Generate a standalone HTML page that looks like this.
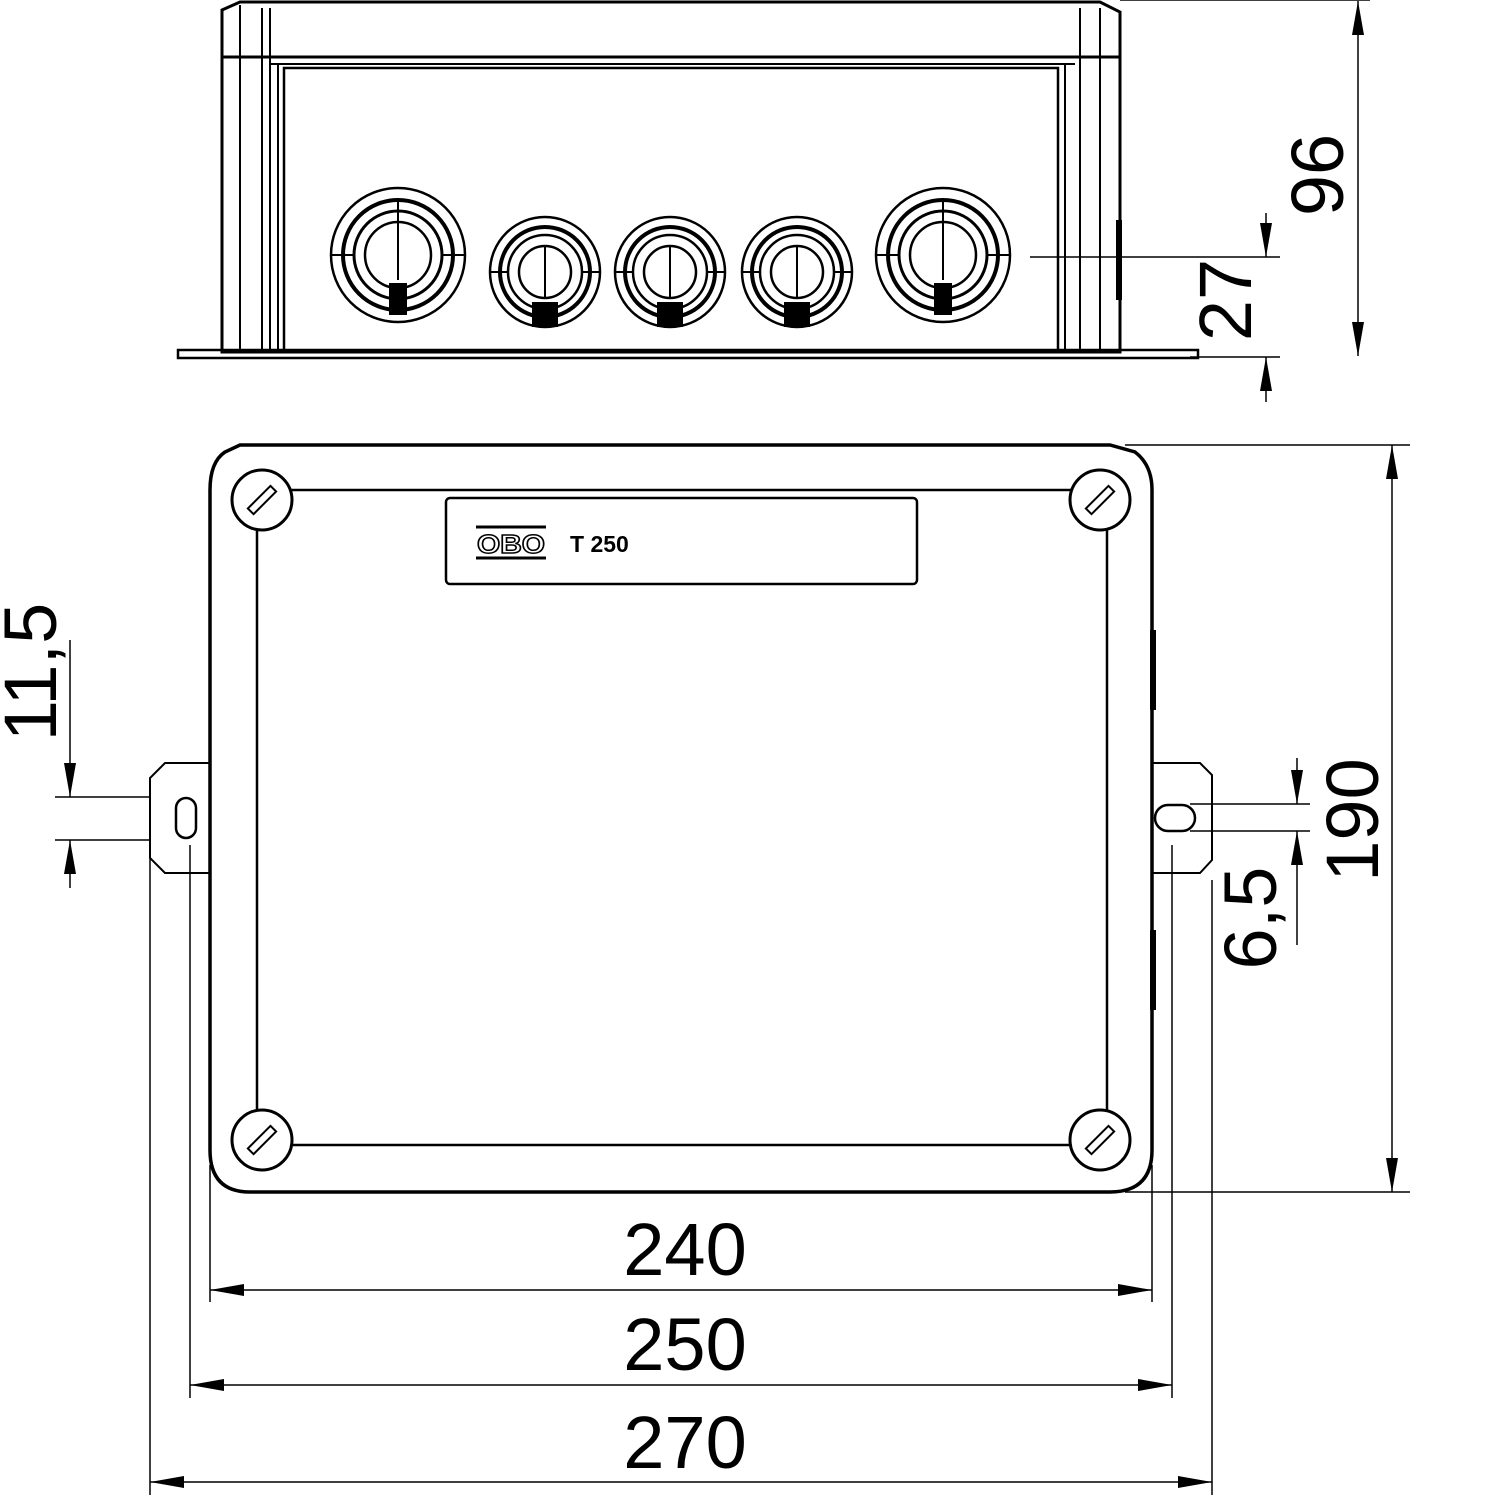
<!DOCTYPE html>
<html><head><meta charset="utf-8"><style>html,body{margin:0;padding:0;background:#fff}svg{display:block}</style></head>
<body>
<svg width="1500" height="1500" viewBox="0 0 1500 1500" xmlns="http://www.w3.org/2000/svg" font-family="Liberation Sans, sans-serif">
<defs>
<marker id="a" viewBox="0 0 34 12" refX="34" refY="6" markerWidth="34" markerHeight="12" markerUnits="userSpaceOnUse" orient="auto"><path d="M0,0L34,6L0,12z" fill="#000"/></marker>
<g id="bigG"><circle r="67" fill="none" stroke="#000" stroke-width="2.5"/><circle r="55" fill="none" stroke="#000" stroke-width="4"/><circle r="44" fill="none" stroke="#000" stroke-width="3"/><circle r="33" fill="none" stroke="#000" stroke-width="2.5"/><path d="M-67,0H-44M44,0H67M0,-55V25" stroke="#000" stroke-width="2"/><rect x="-9" y="28" width="18" height="32" fill="#000"/></g>
<g id="smG"><circle r="55" fill="none" stroke="#000" stroke-width="2.5"/><circle r="45" fill="none" stroke="#000" stroke-width="4"/><circle r="37" fill="none" stroke="#000" stroke-width="2.5"/><circle r="26" fill="none" stroke="#000" stroke-width="2.5"/><path d="M-55,0H-37M37,0H55M0,-26V26" stroke="#000" stroke-width="2"/><rect x="-13" y="30" width="26" height="25" fill="#000"/></g>
<g id="scr"><circle r="30" fill="#fff" stroke="#000" stroke-width="3"/><rect x="-4" y="-16" width="8" height="32" transform="rotate(45)" fill="#fff" stroke="#000" stroke-width="2"/></g>
</defs>
<g fill="none" stroke="#000">
<path d="M222,10 L240,2 H1100 L1120,12 V352 H222 Z" stroke-width="3"/>
<line x1="222" y1="57" x2="1120" y2="57" stroke-width="3"/>
<line x1="270" y1="64" x2="1075" y2="64" stroke-width="2"/>
<path d="M284,352 V68 H1058 V352" stroke-width="2.5"/>
<path d="M240,5 V352 M262,8 V352 M270,8 V352 M278,64 V352 M1065,64 V352 M1080,8 V352 M1100,8 V352" stroke-width="2"/>
<path d="M178,350 H1198 V358 H178 Z" stroke-width="2.5"/>
<line x1="1120" y1="0" x2="1370" y2="0" stroke-width="1.5"/>
<rect x="1116" y="220" width="6" height="80" fill="#000" stroke="none"/>
</g>
<use href="#bigG" x="398" y="255"/>
<use href="#smG" x="545" y="272"/>
<use href="#smG" x="670" y="272"/>
<use href="#smG" x="797" y="272"/>
<use href="#bigG" x="943" y="255"/>
<g stroke="#000" stroke-width="1.5" fill="none">
<line x1="1030" y1="257" x2="1280" y2="257"/>
<line x1="1190" y1="357" x2="1280" y2="357"/>
<line x1="1358" y1="180" x2="1358" y2="1" marker-end="url(#a)"/>
<line x1="1358" y1="180" x2="1358" y2="356" marker-end="url(#a)"/>
<line x1="1266" y1="213" x2="1266" y2="257" marker-end="url(#a)"/>
<line x1="1266" y1="402" x2="1266" y2="357" marker-end="url(#a)"/>
</g>
<g fill="none" stroke="#000">
<path d="M240,445 H1110 L1135,452 Q1152,465 1152,490 V1150 Q1152,1192 1110,1192 H250 Q210,1192 210,1150 V490 Q210,462 225,452 Z" stroke-width="3.5"/>
<path d="M257,490 H1107 V1145 H257 Z" stroke-width="2.5"/>
<rect x="446" y="498" width="471" height="86" rx="4" stroke-width="2.5"/>
<path d="M210,763 H165 L150,778 V858 L165,873 H210" stroke-width="2"/>
<rect x="176" y="798" width="20" height="40" rx="10" stroke-width="2.5"/>
<path d="M1152,763 H1200 L1212,775 V860 L1200,873 H1152" stroke-width="2"/>
<rect x="1155" y="805" width="40" height="26" rx="13" stroke-width="2.5"/>
<rect x="1150" y="630" width="6" height="80" fill="#000" stroke="none"/>
<rect x="1150" y="930" width="6" height="80" fill="#000" stroke="none"/>
</g>
<use href="#scr" x="262" y="500"/>
<use href="#scr" x="1100" y="500"/>
<use href="#scr" x="262" y="1140"/>
<use href="#scr" x="1100" y="1140"/>
<text x="511" y="553" font-size="26" text-anchor="middle" font-weight="bold" fill="none" stroke="#000" stroke-width="1.5" textLength="68" lengthAdjust="spacingAndGlyphs">OBO</text>
<path d="M476,527 H546 M476,558 H546" stroke="#000" stroke-width="3"/>
<text x="570" y="552" font-size="23" font-weight="bold">T 250</text>
<g stroke="#000" stroke-width="1.5" fill="none">
<line x1="1125" y1="445" x2="1410" y2="445"/>
<line x1="1125" y1="1192" x2="1410" y2="1192"/>
<line x1="1392" y1="820" x2="1392" y2="445" marker-end="url(#a)"/>
<line x1="1392" y1="820" x2="1392" y2="1192" marker-end="url(#a)"/>
<line x1="210" y1="1165" x2="210" y2="1302"/>
<line x1="1152" y1="1165" x2="1152" y2="1302"/>
<line x1="190" y1="845" x2="190" y2="1398"/>
<line x1="1172" y1="845" x2="1172" y2="1398"/>
<line x1="150" y1="855" x2="150" y2="1495"/>
<line x1="1212" y1="880" x2="1212" y2="1495"/>
<line x1="680" y1="1290" x2="210" y2="1290" marker-end="url(#a)"/>
<line x1="680" y1="1290" x2="1152" y2="1290" marker-end="url(#a)"/>
<line x1="680" y1="1385" x2="190" y2="1385" marker-end="url(#a)"/>
<line x1="680" y1="1385" x2="1172" y2="1385" marker-end="url(#a)"/>
<line x1="680" y1="1482" x2="150" y2="1482" marker-end="url(#a)"/>
<line x1="680" y1="1482" x2="1212" y2="1482" marker-end="url(#a)"/>
<line x1="55" y1="797" x2="150" y2="797"/>
<line x1="55" y1="840" x2="150" y2="840"/>
<line x1="70" y1="640" x2="70" y2="797" marker-end="url(#a)"/>
<line x1="70" y1="888" x2="70" y2="840" marker-end="url(#a)"/>
<line x1="1190" y1="804" x2="1310" y2="804"/>
<line x1="1190" y1="831" x2="1310" y2="831"/>
<line x1="1297" y1="758" x2="1297" y2="804" marker-end="url(#a)"/>
<line x1="1297" y1="945" x2="1297" y2="831" marker-end="url(#a)"/>
</g>
<g font-size="74" fill="#000" text-anchor="middle">
<text x="685" y="1275">240</text>
<text x="685" y="1370">250</text>
<text x="685" y="1468">270</text>
<text transform="translate(1343,175) rotate(-90)">96</text>
<text transform="translate(1251,300) rotate(-90)">27</text>
<text transform="translate(1378,820) rotate(-90)">190</text>
<text transform="translate(1276,918) rotate(-90)">6,5</text>
<text transform="translate(56,672) rotate(-90)">11,5</text>
</g>
</svg>
</body></html>
